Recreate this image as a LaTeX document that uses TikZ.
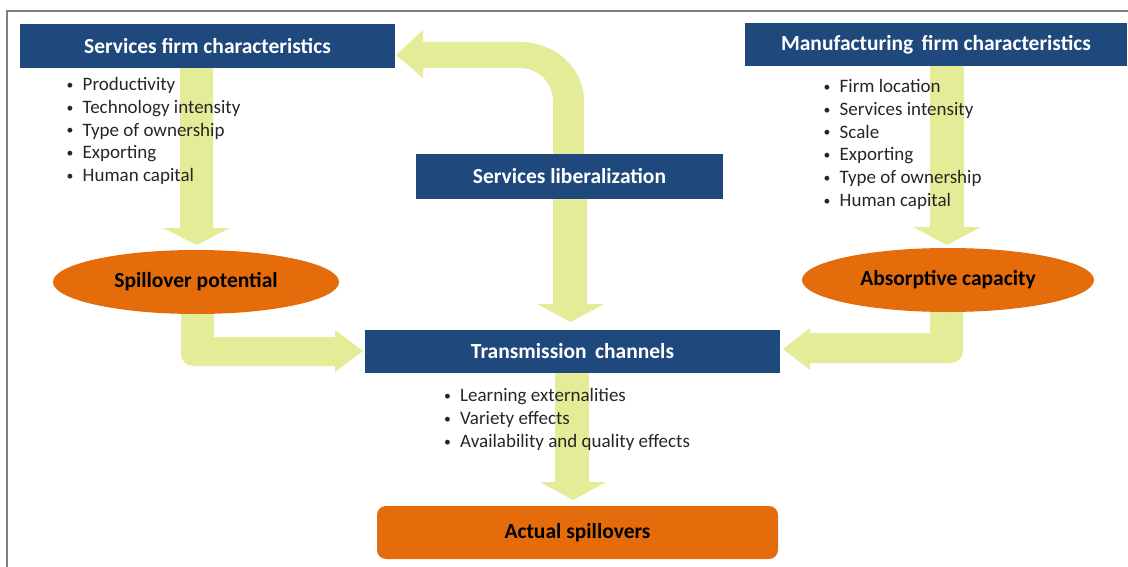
\documentclass[tikz,border=0pt]{standalone}
\usepackage{fontspec}
\setmainfont{Carlito}
\usetikzlibrary{shapes.geometric}

\definecolor{boxblue}{RGB}{31,73,125}
\definecolor{spillorange}{RGB}{228,108,10}
\definecolor{arrowgreen}{RGB}{228,236,152}
\definecolor{itemgray}{RGB}{38,38,38}

\newcommand{\itembullet}{\makebox[16.5pt][l]{\hspace{0.5pt}\raisebox{1.2pt}{\scalebox{0.72}{\textbullet}}}}

\begin{document}
\begin{tikzpicture}[x=1pt, y=-1pt,
  titlebox/.style={fill=boxblue, text=white, inner sep=0pt,
    font=\fontsize{21.5}{25}\selectfont\bfseries},
  spillellipse/.style={ellipse, fill=spillorange, text=black, inner sep=0pt,
    font=\fontsize{21.5}{25}\selectfont\bfseries},
  itemtext/.style={anchor=base west, inner sep=0pt, text=itemgray,
    font=\fontsize{19}{22}\selectfont},
  blockarrow/.style={fill=arrowgreen}]

\useasboundingbox (0,0) rectangle (1128,567);

% Frame
\draw[gray, line width=2pt] (6.5,567) -- (6.5,11.5) -- (1128,11.5);

% Block arrows (behind everything)
% Services firm -> spillover potential
\fill[blockarrow] (180,66) -- (180,228) -- (163,228) -- (196.5,245)
  -- (230,228) -- (213,228) -- (213,66) -- cycle;
% Manufacturing firm -> absorptive capacity
\fill[blockarrow] (930,64) -- (930,227) -- (913,227) -- (947,245)
  -- (981,227) -- (964,227) -- (964,64) -- cycle;
% Services liberalization -> services firm (bent)
\fill[blockarrow] (553,156) -- (553,101)
  arc[start angle=0, end angle=-90, radius=33] -- (423,68) -- (423,78)
  -- (396,55) -- (423,30) -- (423,42) -- (520,42)
  arc[start angle=-90, end angle=0, x radius=64, y radius=59]
  -- (584,156) -- cycle;
% Services liberalization -> transmission channels
\fill[blockarrow] (553,197) -- (553,304) -- (537,304) -- (570.5,322)
  -- (604,304) -- (587,304) -- (587,197) -- cycle;
% Transmission channels -> actual spillovers
\fill[blockarrow] (555,371) -- (555,482) -- (540,482) -- (573,500)
  -- (606,482) -- (589,482) -- (589,371) -- cycle;
% Spillover potential -> transmission channels
\fill[blockarrow] (181,300) -- (181,354)
  arc[start angle=180, end angle=90, radius=12] -- (335,366) -- (335,372)
  -- (363,351) -- (335,330) -- (335,337) -- (214,337) -- (214,300) -- cycle;
% Absorptive capacity -> transmission channels
\fill[blockarrow] (963,300) -- (963,351)
  arc[start angle=0, end angle=90, radius=12] -- (810,363) -- (810,370)
  -- (783,349) -- (810,328) -- (810,333) -- (930,333) -- (930,300) -- cycle;

% Boxes
\node[titlebox, minimum width=375pt, minimum height=44pt] (sfc) at (207.5,46)
  {Services firm characteristics};
\node[titlebox, minimum width=382pt, minimum height=43pt] (mfc) at (936,44.5)
  {Manufacturing\, firm characteristics};
\node[titlebox, minimum width=307pt, minimum height=45pt] (lib) at (569.5,176.5)
  {Services liberalization};
\node[titlebox, minimum width=415pt, minimum height=43pt] (trans) at (572.5,351.5)
  {Transmission\, channels};

% Ellipses
\node[spillellipse, minimum width=286pt, minimum height=64pt] (spot) at (196,282)
  {Spillover potential};
\node[spillellipse, minimum width=292pt, minimum height=64pt] (acap) at (948,280)
  {Absorptive capacity};

% Actual spillovers
\node[fill=spillorange, rounded corners=9pt, minimum width=401pt,
  minimum height=53pt, inner sep=0pt,
  font=\fontsize{21.5}{25}\selectfont\bfseries] (actual) at (577.5,532.5)
  {Actual spillovers};

% Bullet lists
\foreach \t [count=\i] in {Productivity, Technology intensity,
  Type of ownership, Exporting, Human capital}
  \node[itemtext] (sitem\i) at (66,90.8+22.7*\i-22.7) {\itembullet\t};

\foreach \t [count=\i] in {Firm location, Services intensity, Scale,
  Exporting, Type of ownership, Human capital}
  \node[itemtext] (mitem\i) at (823,92.5+22.8*\i-22.8) {\itembullet\t};

\foreach \t [count=\i] in {Learning externalities, Variety effects,
  Availability and quality effects}
  \node[itemtext] (titem\i) at (443.5,401.7+22.8*\i-22.8) {\itembullet\t};

\end{tikzpicture}
\end{document}
